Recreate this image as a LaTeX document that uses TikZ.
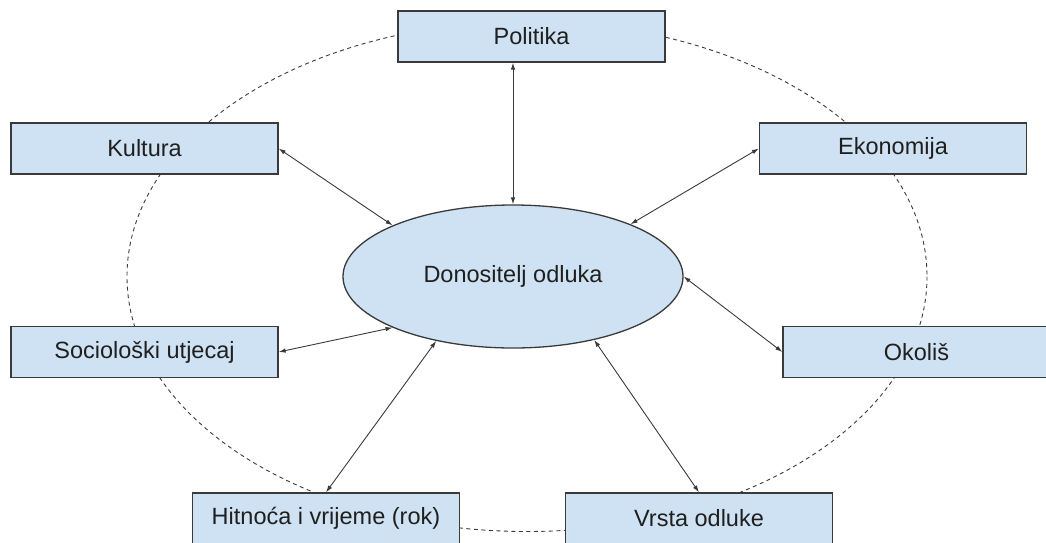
\documentclass[tikz,border=0pt]{standalone}
\usepackage{fontspec}
\setmainfont{Liberation Sans}
\usepackage{tikz}
\usetikzlibrary{arrows.meta}
\usetikzlibrary{shapes.geometric}

\definecolor{boxblue}{HTML}{CFE2F3}
\definecolor{rub}{HTML}{3A3A3A}
\definecolor{tekst}{HTML}{1F1F1F}

\tikzset{
    faktor/.style={rectangle, draw=rub, line width=1.3pt, fill=boxblue, minimum width=267pt, minimum height=51pt, inner sep=0pt, text=tekst, font=\fontsize{23.5}{28}\selectfont},
    centar/.style={ellipse, draw=rub, line width=1.3pt, fill=boxblue, minimum width=340pt, minimum height=143pt, inner sep=0pt, text=tekst, font=\fontsize{23.5}{28}\selectfont},
    veza/.style={{Latex[length=7pt,width=4.5pt]}-{Latex[length=7pt,width=4.5pt]}, line width=0.9pt, draw=rub},
    okvir/.style={dashed, dash pattern=on 4pt off 3.5pt, line width=0.9pt, draw=rub}
}

\begin{document}
\begin{tikzpicture}[x=1pt,y=-1pt]
    \useasboundingbox (0,0) rectangle (1046,542);
    \draw[okvir] (527,276.5) ellipse [x radius=400, y radius=255];   %vanjski okvir

    \node[centar] (donositelj) at (513,276.5) {Donositelj odluka};
    \node[faktor] (politika) at (531.5,36.5) {Politika};
    \node[faktor] (kultura) at (144.5,148.5) {Kultura};
    \node[faktor] (ekonomija) at (893,148.5) {Ekonomija};
    \node[faktor] (socio) at (144.5,352) {Sociološki utjecaj};
    \node[faktor] (okolis) at (916.5,352) {Okoliš};
    \node[faktor] (hitnoca) at (326,518.5) {Hitnoća i vrijeme (rok)};
    \node[faktor] (vrsta) at (699,518.5) {Vrsta odluke};

    \draw[veza] (donositelj.north |- politika.south) -- (donositelj.north);   %politika
    \draw[veza] (kultura.east) -- (donositelj.157);
    \draw[veza] (ekonomija.west) -- (donositelj.24);
    \draw[veza] (socio.east) -- (donositelj.203);
    \draw[veza] (okolis.west) -- (donositelj.east);
    \draw[veza] (hitnoca.north) -- (donositelj.220);
    \draw[veza] (vrsta.north) -- (donositelj.-38);
\end{tikzpicture}
\end{document}
